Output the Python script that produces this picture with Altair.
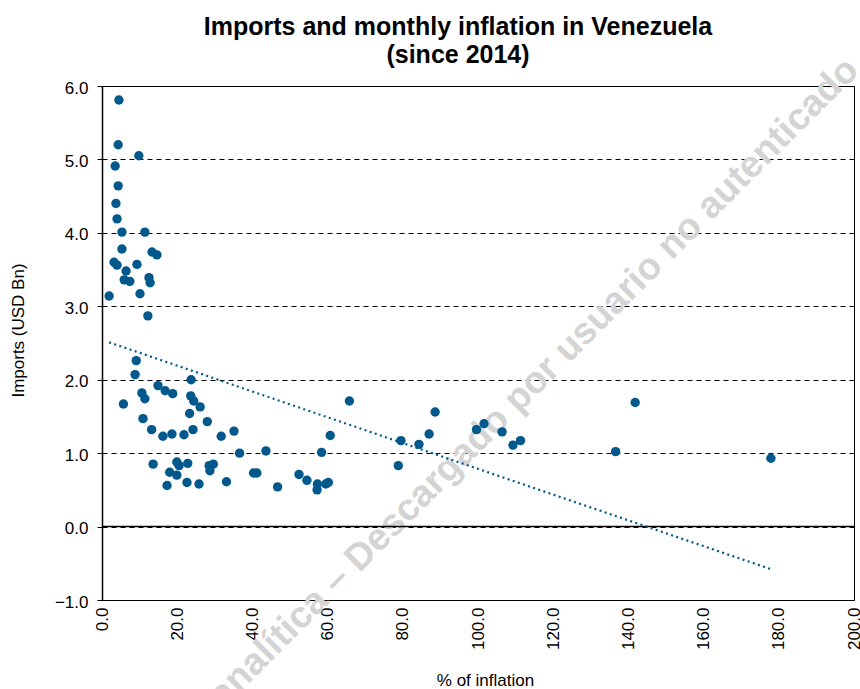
import altair as alt
import pandas as pd

# % of monthly inflation (x) and imports in USD Bn (y)
inflation = [
    4.5, 4.3, 9.8, 3.5, 4.3, 3.7, 4.0, 5.3, 11.4, 5.3, 13.3, 14.6, 3.2, 4.0, 9.3,
    6.4, 12.5, 12.8, 5.9, 7.4, 1.9, 10.1, 12.2,
    9.1, 8.8, 23.7, 14.9, 16.8, 18.8, 10.6, 11.4, 23.6, 24.4, 26.1, 5.7, 23.3,
    28.0, 10.9, 13.2, 16.2, 18.6, 21.8, 24.2, 31.7, 35.1, 36.6, 13.6, 19.9, 20.5,
    18.0, 19.9, 22.8, 28.5, 29.6, 28.7, 17.3, 22.6, 25.8, 33.1,
    65.8, 60.7, 43.6, 58.4, 40.3, 41.2, 46.7, 52.4, 54.5, 57.3, 59.5, 60.2, 57.2,
    88.6, 79.5, 84.3, 87.0, 78.8, 99.6, 101.6, 106.4, 109.3, 111.3,
    141.8, 136.6, 177.9,
]
imports = [
    5.81, 5.20, 5.05, 4.91, 4.64, 4.40, 4.19, 4.01, 4.01, 3.78, 3.74, 3.70, 3.60, 3.56, 3.57,
    3.48, 3.39, 3.32, 3.36, 3.34, 3.14, 3.17, 2.87,
    2.26, 2.07, 2.00, 1.92, 1.85, 1.81, 1.82, 1.74, 1.78, 1.71, 1.63, 1.67, 1.54,
    1.43, 1.47, 1.32, 1.23, 1.26, 1.25, 1.32, 1.23, 1.30, 1.00, 0.85, 0.88, 0.83,
    0.74, 0.70, 0.86, 0.83, 0.85, 0.76, 0.56, 0.60, 0.58, 0.61,
    1.71, 1.24, 1.03, 1.01, 0.73, 0.73, 0.54, 0.71, 0.63, 0.58, 0.58, 0.60, 0.50,
    1.56, 1.17, 1.12, 1.26, 0.83, 1.32, 1.40, 1.29, 1.11, 1.17,
    1.69, 1.02, 0.93,
]

x_ticks = [0, 20, 40, 60, 80, 100, 120, 140, 160, 180, 200]
y_ticks = [-1, 0, 1, 2, 3, 4, 5, 6]

title_lines = ["Imports and monthly inflation in Venezuela", "(since 2014)"]
x_title = "% of inflation"
y_title = "Imports (USD Bn)"
watermark_text = "Ecoanalítica – Descargado por usuario no autenticado"

FONT = "Liberation Sans"
BLUE = "#00588C"

df = pd.DataFrame({"inflation": inflation, "imports": imports})

x_scale = alt.Scale(domain=[0, 200], nice=False, zero=False)
y_scale = alt.Scale(domain=[-1, 6], nice=False, zero=False)

x_axis = alt.Axis(
    values=x_ticks, format=".1f", grid=False, ticks=False,
    domain=True, domainColor="black", domainWidth=1,
    labelAngle=270, labelAlign="right", labelBaseline="middle",
    labelPadding=7, labelFontSize=17, labelFont=FONT, labelColor="black",
    labelOverlap=False, labelFlush=False, labelBound=False,
    title=x_title, titleFont=FONT, titleFontSize=17, titleFontWeight="normal",
    titleColor="black", titleX=383, titleY=80, titleBaseline="middle",
)
y_axis = alt.Axis(
    values=y_ticks, format=".1f", grid=True, gridDash=[5, 4],
    gridColor="black", gridWidth=1, gridOpacity=1,
    domain=True, domainColor="black", domainWidth=1.5,
    ticks=True, tickColor="black", tickSize=5, tickWidth=1,
    labelPadding=9, labelOffset=2, labelFontSize=17, labelFont=FONT, labelColor="black",
    labelOverlap=False, labelFlush=False, labelBound=False,
    title=y_title, titleFont=FONT, titleFontSize=17, titleFontWeight="normal",
    titleColor="black", titleX=-84, titleY=244, titleBaseline="middle",
)

base = alt.Chart(df)

watermark = alt.Chart(pd.DataFrame({"t": [watermark_text]})).mark_text(
    angle=315, fontSize=37.5, fontWeight="bold", color="#d4d4d4", font=FONT,
    align="center", baseline="middle"
).encode(text="t:N", x=alt.value(408), y=alt.value(321))

title_1 = alt.Chart(pd.DataFrame({"t": [title_lines[0]]})).mark_text(
    fontSize=25, fontWeight="bold", color="black", font=FONT,
    align="center", baseline="middle"
).encode(text="t:N", x=alt.value(356), y=alt.value(-59))

title_2 = alt.Chart(pd.DataFrame({"t": [title_lines[1]]})).mark_text(
    fontSize=25, fontWeight="bold", color="black", font=FONT,
    align="center", baseline="middle"
).encode(text="t:N", x=alt.value(356), y=alt.value(-31))

zero_line = alt.Chart(pd.DataFrame({"z": [0]})).mark_rule(
    color="black", strokeWidth=1.5
).encode(y=alt.Y("z:Q", scale=y_scale, axis=y_axis, title=y_title))

trend = base.transform_regression(
    "inflation", "imports", method="linear"
).mark_line(
    color=BLUE, strokeDash=[2, 3.4], strokeWidth=2.2, strokeCap="butt"
).encode(
    x=alt.X("inflation:Q", scale=x_scale, axis=x_axis, title=x_title),
    y=alt.Y("imports:Q", scale=y_scale, axis=y_axis, title=y_title),
)

points = base.mark_circle(size=88, color=BLUE, opacity=1).encode(
    x=alt.X("inflation:Q", scale=x_scale, axis=x_axis, title=x_title),
    y=alt.Y("imports:Q", scale=y_scale, axis=y_axis, title=y_title),
)

chart = alt.layer(watermark, title_1, title_2, zero_line, trend, points).properties(
    width=752,
    height=514,
    autosize=alt.AutoSizeParams(type="none"),
    padding={"left": 102, "top": 86, "right": 6, "bottom": 89},
).configure_view(stroke="black", strokeWidth=1)

chart.save("out.html", embed_options={"renderer": "svg", "actions": False})
